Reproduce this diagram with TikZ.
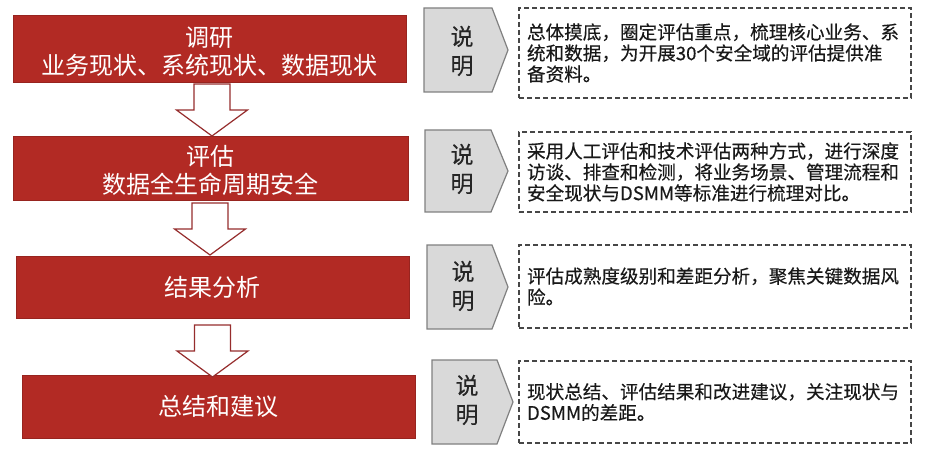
\documentclass[tikz,border=0pt]{standalone}
\usepackage{fontspec}
\setmainfont{Noto Sans CJK SC}
\newfontfamily\notefont[FakeBold=0.3]{Noto Sans CJK SC}
\definecolor{boxred}{RGB}{178,42,36}
\definecolor{arrowred}{RGB}{150,45,45}
\definecolor{tagfill}{RGB}{217,217,217}
\definecolor{tagline}{RGB}{128,128,128}
\definecolor{noteline}{RGB}{70,70,70}
\begin{document}
\begin{tikzpicture}[x=1pt,y=-1pt,
  stepbox/.style={fill=boxred, draw=boxred!85!black, line width=0.6pt, text=white,
    font=\fontsize{24}{28}\selectfont, align=center, inner sep=0pt},
  steptext/.style={text=white, font=\fontsize{24}{28}\selectfont, align=center, inner sep=0pt},
  tagtext/.style={font=\notefont\fontsize{23}{29}\selectfont, text=black!85, align=center, inner sep=0pt},
  tagshape/.style={fill=tagfill, draw=tagline, line width=1.2pt, line join=miter},
  note/.style={draw=noteline, dash pattern=on 5pt off 3pt, line width=1.2pt,
    text width=376pt, inner xsep=8pt, inner ysep=0pt, align=left,
    font=\notefont\fontsize{18.6}{21}\selectfont, text=black!90},
  blockarrow/.style={fill=white, draw=arrowred, line width=1.2pt, line join=miter},
  downarrow/.pic={\path[blockarrow] (-18,0) -- (18,0) -- (18,26) -- (35.5,26) -- (0,52) -- (-35.5,26) -- (-18,26) -- cycle;}
]
\useasboundingbox (0,0) rectangle (925,454);
\fill[white] (0,0) rectangle (925,454);

% step boxes
\node[stepbox, minimum width=393pt, minimum height=67pt] (s1) at (209.5,48.5) {};
\node[steptext] (s1t) at (209.5,51.5) {调研\\业务现状、系统现状、数据现状};
\node[stepbox, minimum width=395pt, minimum height=64pt] (s2) at (210.5,168) {};
\node[steptext] (s2t) at (210.5,170) {评估\\数据全生命周期安全};
\node[stepbox, minimum width=393pt, minimum height=62pt] (s3) at (212.5,287) {结果分析};
\node[stepbox, minimum width=393pt, minimum height=63pt] (s4) at (218.5,406.5) {总结和建议};

% block arrows
\pic at (212,84) {downarrow};
\pic at (210,203) {downarrow};
\pic at (212.5,325) {downarrow};

% tags
\path[tagshape] (424,8) -- (492,8) -- (508,50) -- (492,92) -- (424,92) -- cycle;
\node[tagtext] (t1) at (462,51) {说\\明};
\path[tagshape] (425,130) -- (491,130) -- (508,171) -- (491,212) -- (425,212) -- cycle;
\node[tagtext] (t2) at (462,169) {说\\明};
\path[tagshape] (427,245) -- (492,245) -- (508,287) -- (492,329) -- (427,329) -- cycle;
\node[tagtext] (t3) at (463,286) {说\\明};
\path[tagshape] (432,360) -- (497,360) -- (513,402) -- (497,444) -- (432,444) -- cycle;
\node[tagtext] (t4) at (467,400) {说\\明};

% notes
\node[note, minimum height=90pt] (n1) at (715,53) {总体摸底，圈定评估重点，梳理核心业务、系\\统和数据，为开展30个安全域的评估提供准\\备资料。};
\node[note, minimum height=80pt] (n2) at (715,172) {采用人工评估和技术评估两种方式，进行深度\\访谈、排查和检测，将业务场景、管理流程和\\安全现状与DSMM等标准进行梳理对比。};
\node[note, minimum height=83pt] (n3) at (715,286.5) {评估成熟度级别和差距分析，聚焦关键数据风\\险。};
\node[note, minimum height=82pt] (n4) at (715,402) {现状总结、评估结果和改进建议，关注现状与\\DSMM的差距。};
\end{tikzpicture}
\end{document}
